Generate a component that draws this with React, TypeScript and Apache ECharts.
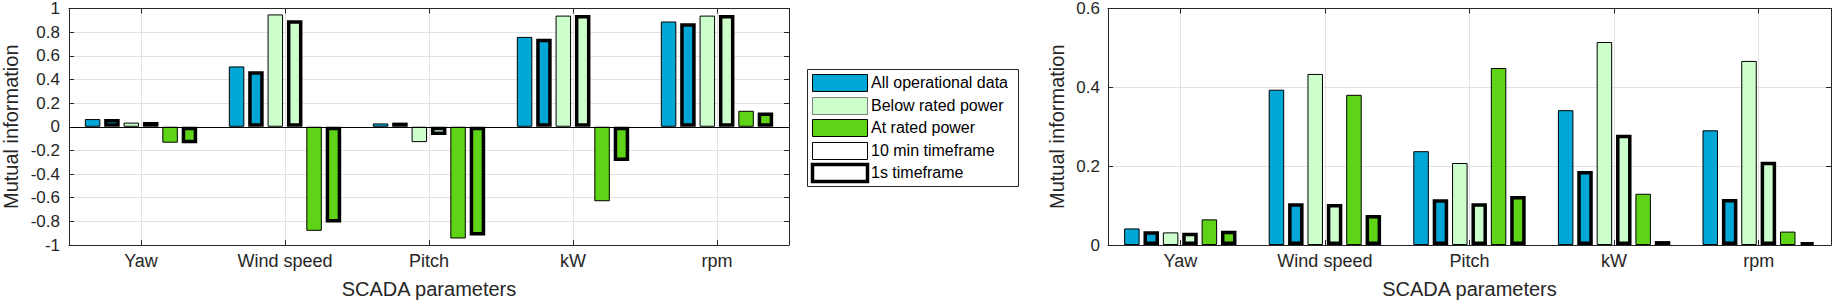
import React, { useEffect, useRef } from 'react';
import * as echarts from 'echarts';

const categories = ['Yaw', 'Wind speed', 'Pitch', 'kW', 'rpm'];
const topSlots = ['', '', '', '', '', '', '', '', '', '', ''];

// Left panel
const leftAll10 = [0.065, 0.51, 0.028, 0.76, 0.89];
const leftAll1s = [0.065, 0.47, 0.035, 0.745, 0.875];
const leftBelow10 = [0.035, 0.95, -0.13, 0.94, 0.94];
const leftBelow1s = [0.04, 0.9, -0.07, 0.945, 0.945];
const leftAt10 = [-0.135, -0.88, -0.945, -0.63, 0.135];
const leftAt1s = [-0.14, -0.81, -0.92, -0.29, 0.12];

// Right panel
const rightAll10 = [0.042, 0.394, 0.238, 0.342, 0.291];
const rightAll1s = [0.035, 0.106, 0.116, 0.188, 0.117];
const rightBelow10 = [0.032, 0.434, 0.208, 0.515, 0.467];
const rightBelow1s = [0.031, 0.104, 0.106, 0.28, 0.211];
const rightAt10 = [0.065, 0.381, 0.449, 0.13, 0.034];
const rightAt1s = [0.036, 0.076, 0.124, 0.01, 0.006];

const legendLabels = ['All operational data', 'Below rated power', 'At rated power', '10 min timeframe', '1s timeframe'];

const BLUE = '#00a6d6';
const LIGHT = '#ccffcc';
const GREEN = '#5fd417';
const AXIS = '#262626';
const GRID = '#e2e2e2';
const FONT = '"Liberation Sans", Arial, sans-serif';

function bar(data: number[], color: string, thick: boolean, xi: number, yi: number, extra: any = {}) {
  return {
    type: 'bar',
    xAxisIndex: xi,
    yAxisIndex: yi,
    data,
    barWidth: 15.5,
    barGap: '25%',
    silent: true,
    itemStyle: { color, borderColor: '#000', borderWidth: thick ? 3.5 : 1 },
    ...extra,
  };
}

function bottomX(gridIndex: number) {
  return {
    type: 'category',
    gridIndex,
    data: categories,
    boundaryGap: true,
    position: 'bottom',
    name: 'SCADA parameters',
    nameLocation: 'middle',
    nameGap: 34,
    nameTextStyle: { fontSize: 20, color: AXIS, fontFamily: FONT },
    axisLine: { show: true, onZero: false, lineStyle: { color: AXIS, width: 1 } },
    axisTick: { show: true, inside: true, alignWithLabel: true, length: 5, lineStyle: { color: AXIS } },
    axisLabel: { fontSize: 18, color: AXIS, fontFamily: FONT, margin: 7 },
    splitLine: { show: false },
  };
}

function topX(gridIndex: number) {
  const odd = (i: number) => i % 2 === 1;
  return {
    type: 'category',
    gridIndex,
    data: topSlots,
    boundaryGap: false,
    position: 'top',
    axisLine: { show: true, onZero: false, lineStyle: { color: AXIS, width: 1 } },
    axisTick: { show: true, inside: true, length: 5, interval: odd, lineStyle: { color: AXIS } },
    axisLabel: { show: false },
    splitLine: { show: true, interval: odd, lineStyle: { color: GRID, width: 1 } },
  };
}

function leftY(gridIndex: number, min: number, max: number, interval: number, nameGap: number, margin: number) {
  return {
    type: 'value',
    gridIndex,
    min,
    max,
    interval,
    position: 'left',
    name: 'Mutual information',
    nameLocation: 'middle',
    nameGap,
    nameTextStyle: { fontSize: 20, color: AXIS, fontFamily: FONT },
    axisLine: { show: true, onZero: false, lineStyle: { color: AXIS, width: 1 } },
    axisTick: { show: true, inside: true, length: 5, lineStyle: { color: AXIS } },
    axisLabel: { fontSize: 17, color: AXIS, fontFamily: FONT, margin },
    splitLine: { show: true, lineStyle: { color: GRID, width: 1 } },
  };
}

function rightY(gridIndex: number, min: number, max: number, interval: number) {
  return {
    type: 'value',
    gridIndex,
    min,
    max,
    interval,
    position: 'right',
    axisLine: { show: true, onZero: false, lineStyle: { color: AXIS, width: 1 } },
    axisTick: { show: true, inside: true, length: 5, lineStyle: { color: AXIS } },
    axisLabel: { show: false },
    splitLine: { show: false },
  };
}

function legendGraphic() {
  const x0 = 807.5;
  const y0 = 69.5;
  const swX = 812;
  const swW = 55;
  const swH = 17;
  const centers = [82.5, 105, 127.5, 150, 172.5];
  const swatchStyles = [
    { fill: BLUE, stroke: '#000', lineWidth: 1 },
    { fill: LIGHT, stroke: '#7f7f7f', lineWidth: 1 },
    { fill: GREEN, stroke: '#000', lineWidth: 1 },
    { fill: '#fff', stroke: '#000', lineWidth: 1 },
    { fill: '#fff', stroke: '#000', lineWidth: 3.5 },
  ];
  const children: any[] = [
    {
      type: 'rect',
      shape: { x: x0, y: y0, width: 211, height: 117 },
      style: { fill: '#fff', stroke: AXIS, lineWidth: 1 },
    },
  ];
  legendLabels.forEach((label, i) => {
    children.push({
      type: 'rect',
      shape: { x: swX + 0.5, y: Math.round(centers[i] - swH / 2) + 0.5, width: swW, height: swH },
      style: swatchStyles[i],
    });
    children.push({
      type: 'text',
      x: 871,
      y: centers[i],
      style: { text: label, font: `16px ${FONT}`, fill: '#000', verticalAlign: 'middle', align: 'left' },
    });
  });
  return [{ type: 'group', silent: true, z: 100, children }];
}

export default function App() {
  const ref = useRef<HTMLDivElement>(null);
  useEffect(() => {
    if (!ref.current) return;
    const chart = echarts.init(ref.current, undefined, { renderer: 'svg' });
    const option: any = {
      animation: false,
      backgroundColor: '#fff',
      grid: [
        { left: 67, top: 7, width: 722, height: 240, containLabel: false },
        { left: 1108, top: 7, width: 723, height: 239, containLabel: false },
      ],
      xAxis: [bottomX(0), topX(0), bottomX(1), topX(1)],
      yAxis: [
        leftY(0, -1, 1, 0.2, 48, 9),
        rightY(0, -1, 1, 0.2),
        leftY(1, 0, 0.6, 0.2, 41, 8),
        rightY(1, 0, 0.6, 0.2),
      ],
      series: [
        bar(leftAll10, BLUE, false, 0, 0, {
          markLine: {
            silent: true,
            symbol: 'none',
            label: { show: false },
            lineStyle: { color: '#000', width: 1.2, type: 'solid' },
            data: [{ yAxis: 0 }],
          },
        }),
        bar(leftAll1s, BLUE, true, 0, 0),
        bar(leftBelow10, LIGHT, false, 0, 0),
        bar(leftBelow1s, LIGHT, true, 0, 0),
        bar(leftAt10, GREEN, false, 0, 0),
        bar(leftAt1s, GREEN, true, 0, 0),
        bar(rightAll10, BLUE, false, 2, 2),
        bar(rightAll1s, BLUE, true, 2, 2),
        bar(rightBelow10, LIGHT, false, 2, 2),
        bar(rightBelow1s, LIGHT, true, 2, 2),
        bar(rightAt10, GREEN, false, 2, 2),
        bar(rightAt1s, GREEN, true, 2, 2),
      ],
      graphic: legendGraphic(),
    };
    chart.setOption(option);
    return () => chart.dispose();
  }, []);
  return (
    <div
      ref={ref}
      style={{ position: 'absolute', left: 0, top: 0, width: 1832, height: 304, background: '#fff' }}
    />
  );
}
